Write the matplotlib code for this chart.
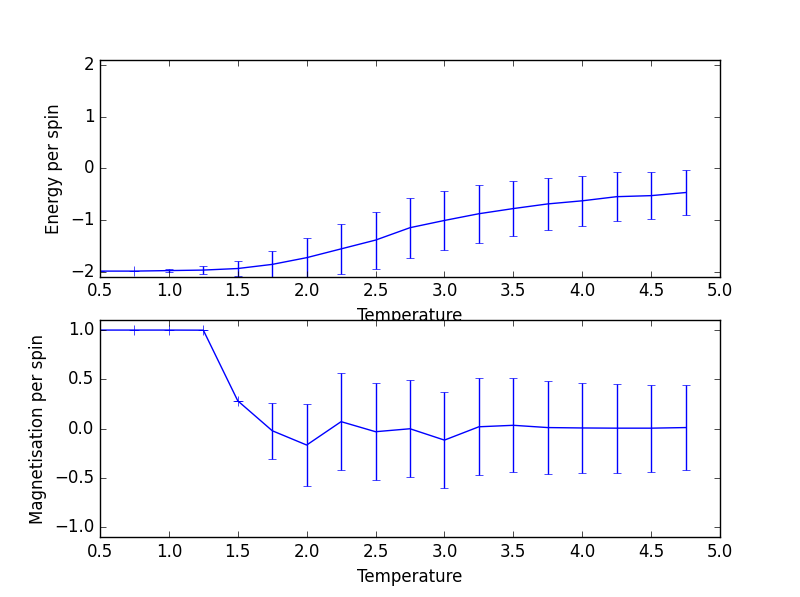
import numpy as np
import matplotlib
matplotlib.use('Agg')
import matplotlib.pyplot as plt

plt.style.use('classic')

# temperatures sampled
temps = [0.5, 0.75, 1.0, 1.25, 1.5, 1.75, 2.0, 2.25, 2.5, 2.75, 3.0,
         3.25, 3.5, 3.75, 4.0, 4.25, 4.5, 4.75]

energy = [-1.99, -1.99, -1.98, -1.97, -1.94, -1.86, -1.73, -1.56, -1.39,
          -1.15, -1.01, -0.88, -0.78, -0.69, -0.63, -0.55, -0.53, -0.47]
energy_err = [0.0, 0.0, 0.03, 0.08, 0.14, 0.25, 0.38, 0.49, 0.55,
              0.58, 0.57, 0.56, 0.54, 0.50, 0.48, 0.47, 0.46, 0.44]

mag = [1.0, 1.0, 1.0, 0.999, 0.283, -0.02, -0.165, 0.072, -0.03, 0.0,
       -0.115, 0.02, 0.035, 0.012, 0.008, 0.006, 0.006, 0.012]
mag_err = [0.0, 0.0, 0.0, 0.0, 0.0, 0.285, 0.415, 0.495, 0.49, 0.49,
           0.485, 0.49, 0.475, 0.47, 0.455, 0.45, 0.44, 0.43]

# points where the spread is so small only a cross shows
energy_small = [1]
mag_small = [1, 2, 3, 4]

fig = plt.figure(figsize=(8, 5.97), dpi=100)

ax1 = fig.add_subplot(2, 1, 1)
ax1.errorbar(temps, energy, yerr=energy_err, color='b', marker='+',
             markersize=7, markevery=energy_small)
ax1.set_xlim(0.5, 5.0)
ax1.set_ylim(-2.1, 2.1)
ax1.set_xlabel('Temperature')
ax1.set_ylabel('Energy per spin')

ax2 = fig.add_subplot(2, 1, 2)
ax2.errorbar(temps, mag, yerr=mag_err, color='b', marker='+',
             markersize=7, markevery=mag_small)
ax2.set_xlim(0.5, 5.0)
ax2.set_ylim(-1.1, 1.1)
ax2.set_xlabel('Temperature')
ax2.set_ylabel('Magnetisation per spin')

fig.savefig('out.png', dpi=100)
